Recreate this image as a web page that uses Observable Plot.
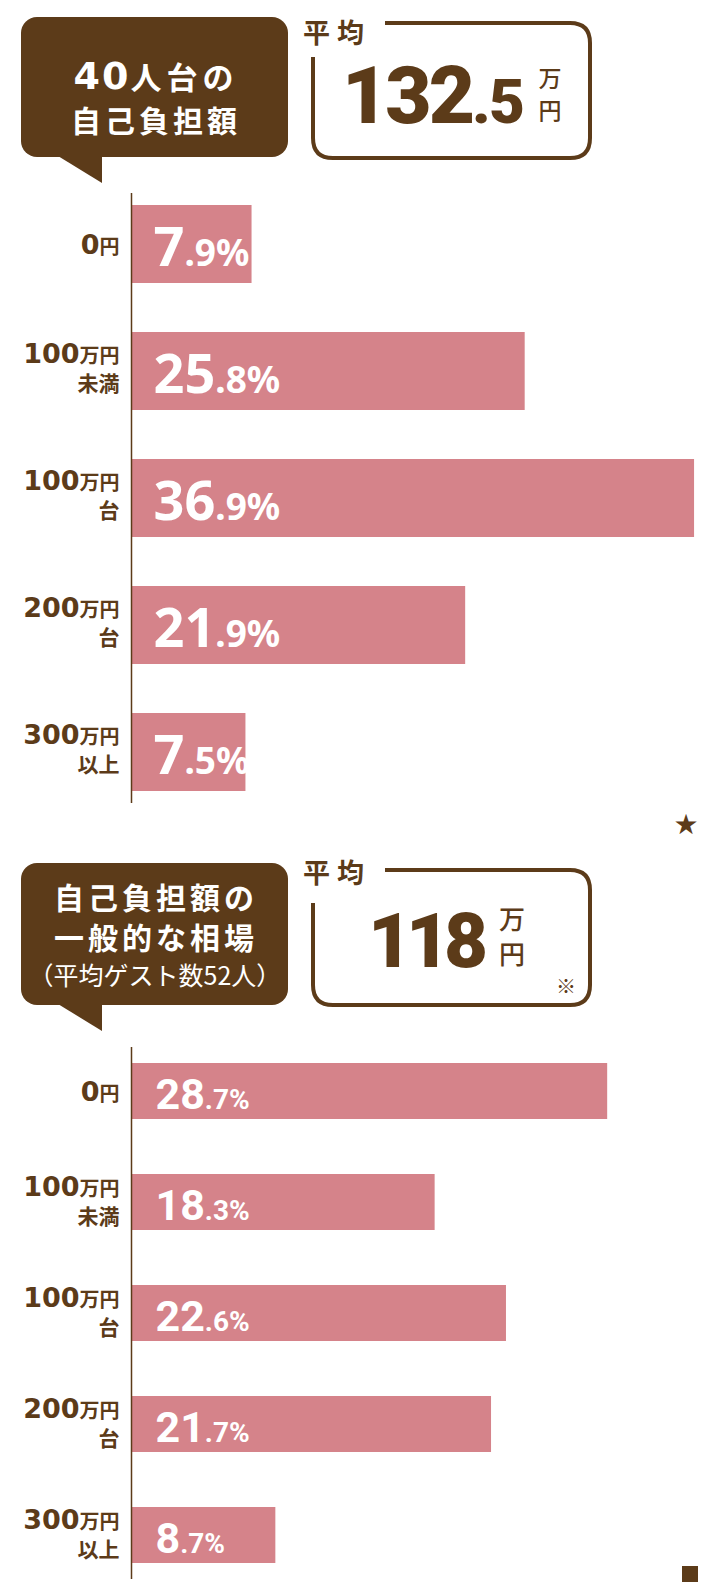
<!DOCTYPE html>
<html lang="ja">
<head>
<meta charset="utf-8">
<script src="https://cdn.jsdelivr.net/npm/d3@7"></script>
<script src="https://cdn.jsdelivr.net/npm/@observablehq/plot@0.6"></script>
<style>
  html, body { margin: 0; padding: 0; background: #fff; }
  #page { position: relative; width: 720px; height: 1596px; overflow: hidden; background: #fff; }
  #deco { position: absolute; left: 0; top: 0; }
  .chart { position: absolute; left: 0; }
  .cjk { font-family: "Noto Sans CJK JP", "Noto Sans", sans-serif; }
</style>
</head>
<body>
<div id="page">
<svg id="deco" width="720" height="1596" viewBox="0 0 720 1596">
  <!-- top callout -->
  <rect x="21" y="17" width="267" height="140" rx="16" fill="#5c3b19"/>
  <polygon points="58,156 102,156 102,183" fill="#5c3b19"/>
  <text x="156" y="89" text-anchor="middle" fill="#fff" font-weight="700" class="cjk"><tspan font-family="DejaVu Sans" font-size="38" letter-spacing="2">40</tspan><tspan font-size="31" letter-spacing="5">人台の</tspan></text>
  <text x="156" y="132" text-anchor="middle" fill="#fff" font-weight="700" font-size="30" letter-spacing="4" class="cjk">自己負担額</text>
  <!-- top average box -->
  <path d="M385,23 H570 Q590,23 590,43 V138 Q590,158 570,158 H333 Q313,158 313,138 V57" fill="none" stroke="#5c3b19" stroke-width="4"/>
  <text x="303" y="43" fill="#5c3b19" font-weight="700" font-size="27" letter-spacing="7" class="cjk">平均</text>
  <text x="342" y="123" fill="#5c3b19" font-family="Roboto" font-weight="900"><tspan font-size="80" letter-spacing="-3">132</tspan><tspan font-size="62" letter-spacing="-2">.5</tspan></text>
  <text x="550" y="87" text-anchor="middle" fill="#5c3b19" font-weight="500" font-size="23" class="cjk">万</text>
  <text x="550" y="119" text-anchor="middle" fill="#5c3b19" font-weight="500" font-size="23" class="cjk">円</text>
  <text x="686" y="824" text-anchor="middle" dominant-baseline="central" fill="#5c3b19" font-size="28" font-family="DejaVu Sans">★</text>

  <!-- bottom callout -->
  <rect x="21" y="863" width="267" height="142" rx="16" fill="#5c3b19"/>
  <polygon points="58,1004 102,1004 102,1031" fill="#5c3b19"/>
  <text x="156" y="909" text-anchor="middle" fill="#fff" font-weight="700" font-size="30" letter-spacing="4" class="cjk">自己負担額の</text>
  <text x="156" y="949" text-anchor="middle" fill="#fff" font-weight="700" font-size="30" letter-spacing="4" class="cjk">一般的な相場</text>
  <text x="155" y="985" text-anchor="middle" fill="#fff" font-weight="400" font-size="25" class="cjk">（平均ゲスト数52人）</text>
  <!-- bottom average box -->
  <path d="M385,870 H570 Q590,870 590,890 V985 Q590,1005 570,1005 H333 Q313,1005 313,985 V903" fill="none" stroke="#5c3b19" stroke-width="4"/>
  <text x="303" y="883" fill="#5c3b19" font-weight="700" font-size="27" letter-spacing="7" class="cjk">平均</text>
  <text x="368" y="967" fill="#5c3b19" font-family="Roboto" font-weight="900" font-size="76" letter-spacing="-6">118</text>
  <text x="512" y="929" text-anchor="middle" fill="#5c3b19" font-weight="500" font-size="26" class="cjk">万</text>
  <text x="512" y="964" text-anchor="middle" fill="#5c3b19" font-weight="500" font-size="26" class="cjk">円</text>
  <text x="566" y="994" text-anchor="middle" fill="#5c3b19" font-size="20" class="cjk">※</text>
  <rect x="682" y="1566" width="16" height="16" fill="#5c3b19"/>
</svg>
</div>
<script>
// ---- data ----
const categories = ["0円", "100万円未満", "100万円台", "200万円台", "300万円以上"];
const labelLine1 = ["0円", "100万円", "100万円", "200万円", "300万円"];
const labelLine2 = ["", "未満", "台", "台", "以上"];
const share40s = [7.9, 25.8, 36.9, 21.9, 7.5];
const shareGeneral = [28.7, 18.3, 22.6, 21.7, 8.7];

const BROWN = "#5c3b19";
const PINK = "#d5838a";

function rows(values) {
  return categories.map((c, i) => ({cat: c, line1: labelLine1[i], line2: labelLine2[i], value: values[i]}));
}

function splitText(svg, re, smallSize, smallFamily) {
  d3.select(svg).selectAll("text").each(function () {
    const t = d3.select(this);
    const s = this.textContent;
    const m = s.match(re);
    if (!m) return;
    t.text(null);
    t.append("tspan").text(m[1]);
    const sm = t.append("tspan").attr("font-size", smallSize).text(m[2]);
    if (smallFamily) sm.attr("font-family", smallFamily);
  });
}

function chart(values, o) {
  const data = rows(values);
  const single = data.filter(d => !d.line2);
  const double = data.filter(d => d.line2);
  const labelFont = '"DejaVu Sans", "Noto Sans CJK JP", sans-serif';
  const svg = Plot.plot({
    width: 720,
    height: o.height,
    marginLeft: 131,
    marginRight: 0,
    marginTop: o.marginTop,
    marginBottom: o.marginBottom,
    x: {domain: [0, o.xMax], axis: null},
    y: {domain: categories, axis: null, paddingInner: o.paddingInner, paddingOuter: o.paddingOuter},
    style: {background: "transparent", overflow: "visible"},
    marks: [
      Plot.barX(data, {x: "value", y: "cat", fill: PINK}),
      Plot.ruleX([0], {stroke: BROWN, strokeWidth: 1.5}),
      Plot.text(data, {
        x: 0, y: "cat", text: d => d.value.toFixed(1) + "%",
        dx: o.valueDx, dy: o.valueDy, textAnchor: "start", fill: "#fff",
        fontSize: o.bigSize, fontWeight: 700, fontFamily: o.valueFont
      }),
      Plot.text(single, {
        x: 0, y: "cat", text: "line1", dx: -12, dy: 1, textAnchor: "end",
        fill: BROWN, fontSize: 27, fontWeight: 700, fontFamily: labelFont
      }),
      Plot.text(double, {
        x: 0, y: "cat", text: "line1", dx: -12, dy: o.lab1dy, textAnchor: "end",
        fill: BROWN, fontSize: 27, fontWeight: 700, fontFamily: labelFont
      }),
      Plot.text(double, {
        x: 0, y: "cat", text: "line2", dx: -12, dy: o.lab2dy, textAnchor: "end",
        fill: BROWN, fontSize: 21, fontWeight: 700, fontFamily: '"Noto Sans CJK JP", sans-serif'
      })
    ]
  });
  splitText(svg, /^(\d+)(\.\d%)$/, o.smallSize, null);
  splitText(svg, /^(\d+)(万?円)$/, 20, '"Noto Sans CJK JP", sans-serif');
  svg.classList.add("chart");
  svg.style.top = o.top + "px";
  svg.style.position = "absolute";
  svg.style.left = "0px";
  return svg;
}

const page = document.getElementById("page");
page.appendChild(chart(share40s, {
  top: 190, height: 630, marginTop: 3, marginBottom: 17,
  paddingInner: 0.386, paddingOuter: 0.0945, xMax: 38.6,
  valueFont: '"Noto Sans", sans-serif', bigSize: 54, smallSize: 37,
  valueDx: 22, valueDy: 4, lab1dy: -17, lab2dy: 13
}));
page.appendChild(chart(shareGeneral, {
  top: 1040, height: 556, marginTop: 7, marginBottom: 17,
  paddingInner: 0.492, paddingOuter: 0.136, xMax: 35.5,
  valueFont: 'Roboto, sans-serif', bigSize: 43, smallSize: 28,
  valueDx: 24, valueDy: 4, lab1dy: -15, lab2dy: 15
}));
</script>
</body>
</html>
